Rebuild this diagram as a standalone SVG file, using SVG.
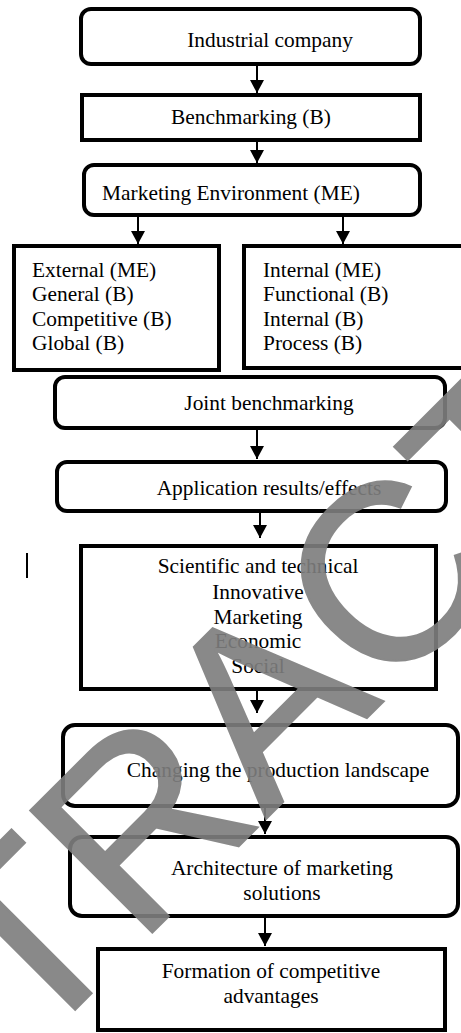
<svg xmlns="http://www.w3.org/2000/svg" width="461" height="1033" viewBox="0 0 461 1033">
<style>
.box{fill:#fff;stroke:#000;stroke-width:4}
.t{font-family:"Liberation Serif","Times New Roman",serif;font-size:21.4px;fill:#000}
.c{text-anchor:middle}
.conn{stroke:#000;stroke-width:2;fill:none;marker-end:url(#ah)}
.wm{font-family:"Liberation Sans",Arial,sans-serif;font-size:251px;fill:#7e7e7e;stroke:#7e7e7e;stroke-width:2;opacity:0.91;text-anchor:middle}
</style>
<defs>
<marker id="ah" markerUnits="userSpaceOnUse" markerWidth="13" markerHeight="14" viewBox="0 0 13 14" refX="13" refY="7" orient="auto">
<path d="M0,0 L13,7 L0,14 z" fill="#000"/>
</marker>
</defs>
<rect width="461" height="1033" fill="#fff"/>
<g id="connectors">
<line class="conn" x1="257" y1="64" x2="257" y2="93"/>
<line class="conn" x1="257" y1="142" x2="257" y2="163"/>
<line class="conn" x1="138" y1="217" x2="138" y2="244"/>
<line class="conn" x1="343" y1="217" x2="343" y2="244"/>
<line class="conn" x1="257" y1="430" x2="257" y2="459"/>
<line class="conn" x1="260" y1="513" x2="260" y2="538"/>
<line class="conn" x1="257" y1="691" x2="257" y2="713"/>
<line class="conn" x1="265" y1="808" x2="265" y2="834"/>
<line class="conn" x1="265" y1="918" x2="265" y2="946"/>
</g>
<g id="n1"><rect class="box" x="81" y="9" width="339" height="55" rx="10"/><text class="t c" x="270" y="47">Industrial company</text></g>
<g id="n2"><rect class="box" x="82" y="95" width="338" height="45"/><text class="t c" x="251" y="124">Benchmarking (B)</text></g>
<g id="n3"><rect class="box" x="84" y="165" width="336" height="50" rx="10"/><text class="t c" x="231" y="200">Marketing Environment (ME)</text></g>
<g id="n4"><rect class="box" x="14" y="246" width="205" height="124"/>
<text class="t" x="32" y="277">External (ME)</text>
<text class="t" x="32" y="301">General (B)</text>
<text class="t" x="32" y="326">Competitive (B)</text>
<text class="t" x="32" y="350">Global (B)</text></g>
<g id="n5"><rect class="box" x="244" y="246" width="230" height="122"/>
<text class="t" x="263" y="277">Internal (ME)</text>
<text class="t" x="263" y="301">Functional (B)</text>
<text class="t" x="263" y="326">Internal (B)</text>
<text class="t" x="263" y="350">Process (B)</text></g>
<g id="n6"><rect class="box" x="55" y="377" width="390" height="51" rx="10"/><text class="t c" x="269" y="410">Joint benchmarking</text></g>
<g id="n7"><rect class="box" x="57" y="462" width="389" height="49" rx="10"/><text class="t c" x="269" y="495">Application results/effects</text></g>
<g id="n8"><rect class="box" x="81" y="546" width="355" height="143"/>
<text class="t c" x="258" y="573">Scientific and technical</text>
<text class="t c" x="258" y="599">Innovative</text>
<text class="t c" x="258" y="624">Marketing</text>
<text class="t c" x="258" y="648">Economic</text>
<text class="t c" x="258" y="673">Social</text></g>
<rect x="26" y="553" width="2" height="25" fill="#000"/>
<g id="n9"><rect class="box" x="63" y="725" width="395" height="81" rx="12"/><text class="t c" x="278" y="777">Changing the production landscape</text></g>
<g id="n10"><rect class="box" x="70" y="837" width="388" height="79" rx="12"/>
<text class="t c" x="282" y="875">Architecture of marketing</text>
<text class="t c" x="282" y="900">solutions</text></g>
<g id="n11"><rect class="box" x="98" y="949" width="347" height="81"/>
<text class="t c" x="271" y="978">Formation of competitive</text>
<text class="t c" x="271" y="1003">advantages</text></g>
<text class="wm" transform="translate(325,760) rotate(-45)">RETRACTED</text>
</svg>
